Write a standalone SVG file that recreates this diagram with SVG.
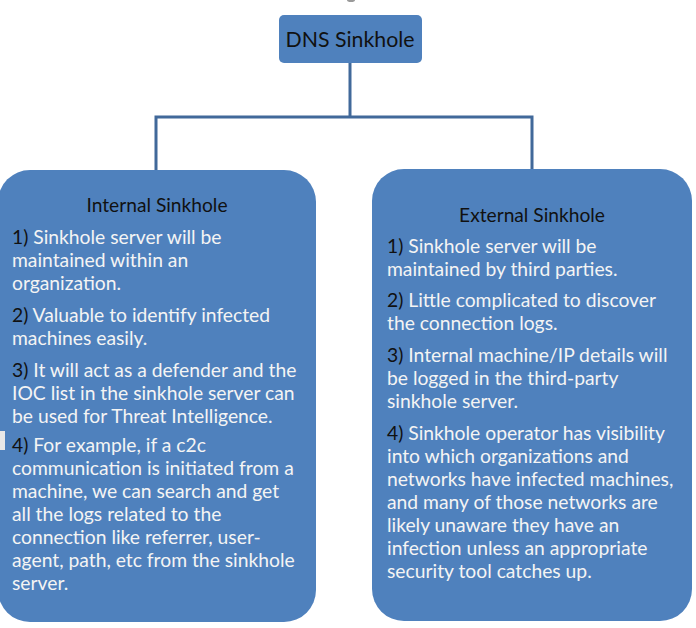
<svg xmlns="http://www.w3.org/2000/svg" width="696" height="628" viewBox="0 0 696 628">
<style>
.box{fill:#4f81bd;}
.conn{stroke:#41699a;stroke-width:3;fill:none;}
text{font-family:Lato,"Open Sans","Liberation Sans",sans-serif;}
.title{font-size:21.3px;fill:#111;text-anchor:middle;}
.head{font-size:19.2px;fill:#111;text-anchor:middle;}
.item{font-size:19.3px;fill:#f4f4f4;}
.num{fill:#111;}
</style>
<rect width="696" height="628" fill="#ffffff"/>
<ellipse cx="351" cy="0" rx="4" ry="2" fill="#9a9a9a"/>
<g id="connectors">
<line class="conn" x1="350" y1="63" x2="350" y2="117"/>
<polyline class="conn" points="156,170 156,117 532,117 532,170"/>
</g>
<g id="dns-sinkhole">
<rect class="box" x="279" y="15" width="143" height="48" rx="5"/>
<text class="title" x="350" y="47">DNS Sinkhole</text>
</g>
<g id="internal-sinkhole">
<rect class="box" x="-2" y="170" width="318" height="452" rx="32"/>
<rect x="0" y="431" width="5" height="19" fill="#e8e8e8"/>
<text class="head" x="157" y="212">Internal Sinkhole</text>
<text class="item" x="12" y="244"><tspan class="num">1)</tspan> Sinkhole server will be</text>
<text class="item" x="12" y="267">maintained within an</text>
<text class="item" x="12" y="290">organization.</text>
<text class="item" x="12" y="322"><tspan class="num">2)</tspan> Valuable to identify infected</text>
<text class="item" x="12" y="345">machines easily.</text>
<text class="item" x="12" y="377"><tspan class="num">3)</tspan> It will act as a defender and the</text>
<text class="item" x="12" y="400">IOC list in the sinkhole server can</text>
<text class="item" x="12" y="423">be used for Threat Intelligence.</text>
<text class="item" x="12" y="452"><tspan class="num">4)</tspan> For example, if a c2c</text>
<text class="item" x="12" y="475">communication is initiated from a</text>
<text class="item" x="12" y="498">machine, we can search and get</text>
<text class="item" x="12" y="521">all the logs related to the</text>
<text class="item" x="12" y="544">connection like referrer, user-</text>
<text class="item" x="12" y="567">agent, path, etc from the sinkhole</text>
<text class="item" x="12" y="590">server.</text>
</g>
<g id="external-sinkhole">
<rect class="box" x="372" y="169" width="320" height="452" rx="32"/>
<text class="head" x="532" y="222">External Sinkhole</text>
<text class="item" x="387" y="253"><tspan class="num">1)</tspan> Sinkhole server will be</text>
<text class="item" x="387" y="276">maintained by third parties.</text>
<text class="item" x="387" y="307"><tspan class="num">2)</tspan> Little complicated to discover</text>
<text class="item" x="387" y="330">the connection logs.</text>
<text class="item" x="387" y="362"><tspan class="num">3)</tspan> Internal machine/IP details will</text>
<text class="item" x="387" y="385">be logged in the third-party</text>
<text class="item" x="387" y="408">sinkhole server.</text>
<text class="item" x="387" y="440"><tspan class="num">4)</tspan> Sinkhole operator has visibility</text>
<text class="item" x="387" y="463">into which organizations and</text>
<text class="item" x="387" y="486">networks have infected machines,</text>
<text class="item" x="387" y="509">and many of those networks are</text>
<text class="item" x="387" y="532">likely unaware they have an</text>
<text class="item" x="387" y="555">infection unless an appropriate</text>
<text class="item" x="387" y="578">security tool catches up.</text>
</g>
</svg>
